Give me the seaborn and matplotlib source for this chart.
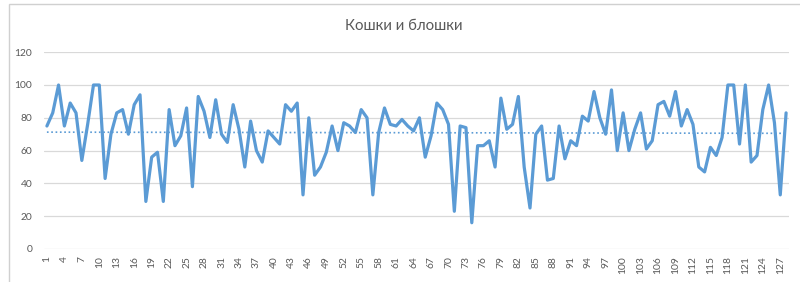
import numpy as np
import pandas as pd
import matplotlib
matplotlib.use("Agg")
import matplotlib.pyplot as plt
import seaborn as sns
from matplotlib.patches import Rectangle

title = "Кошки и блошки"
values = [
    75, 83, 100, 75, 89, 83, 54, 76, 100, 100,
    43, 70, 83, 85, 70, 88, 94, 29, 56, 59,
    29, 85, 63, 69, 86, 38, 93, 84, 68, 91,
    70, 65, 88, 73, 50, 78, 60, 53, 72, 68,
    64, 88, 84, 89, 33, 80, 45, 50, 59, 75,
    60, 77, 75, 71, 85, 80, 33, 71, 86, 76,
    75, 79, 75, 72, 80, 56, 69, 89, 85, 76,
    23, 75, 74, 16, 63, 63, 66, 50, 92, 73,
    76, 93, 50, 25, 70, 75, 42, 43, 75, 55,
    66, 63, 81, 78, 96, 80, 70, 97, 60, 83,
    60, 73, 83, 61, 66, 88, 90, 81, 96, 75,
    85, 76, 50, 47, 62, 57, 68, 100, 100, 64,
    100, 53, 57, 85, 100, 77, 33, 83,
]
categories = list(range(1, len(values) + 1))
x_ticks = list(range(1, 128, 3))
y_ticks = [0, 20, 40, 60, 80, 100, 120]

sns.set_theme(style="white")
plt.rcParams["font.family"] = ["Lato", "DejaVu Sans"]

df = pd.DataFrame({"n": categories, "v": values})
coef = np.polyfit(df["n"], df["v"], 1)
df["trend"] = np.polyval(coef, df["n"])

fig = plt.figure(figsize=(8.0, 2.82), dpi=100)
fig.patch.set_facecolor("white")
# chart frame
fig.patches.append(Rectangle((9 / 800, -0.05), 1.0, (282 - 4) / 282 + 0.05,
                             transform=fig.transFigure, fill=False,
                             edgecolor="#d0d0d0", linewidth=1.0))

ax = fig.add_axes([44 / 800, 33 / 282, (789 - 44) / 800, (249 - 52.2) / 282])
ax.set_facecolor("white")

for y in y_ticks:
    ax.axhline(y, color="#d9d9d9", linewidth=0.9, zorder=0)

sns.lineplot(data=df, x="n", y="v", ax=ax, color="#5B9BD5", linewidth=2.3, zorder=3)
sns.lineplot(data=df, x="n", y="trend", ax=ax, color="#5B9BD5", linewidth=1.2,
             linestyle=(0, (1, 1.6)), zorder=2)

ax.set_xlim(0.5, len(values) + 0.5)
ax.set_ylim(0, 120)
ax.set_xticks(x_ticks)
ax.set_xticklabels([str(t) for t in x_ticks], rotation=90)
ax.set_yticks(y_ticks)
ax.set_yticklabels([str(t) for t in y_ticks])
ax.tick_params(axis="both", length=0, colors="#595959", labelsize=7.4)
ax.tick_params(axis="y", pad=8.5)
ax.tick_params(axis="x", pad=5)
ax.set_xlabel("")
ax.set_ylabel("")
for s in ax.spines.values():
    s.set_visible(False)

fig.text(404 / 800, 1 - 26 / 282, title, ha="center", va="center",
         fontsize=10.8, color="#595959")

fig.savefig("out.png", dpi=100, facecolor="white")
